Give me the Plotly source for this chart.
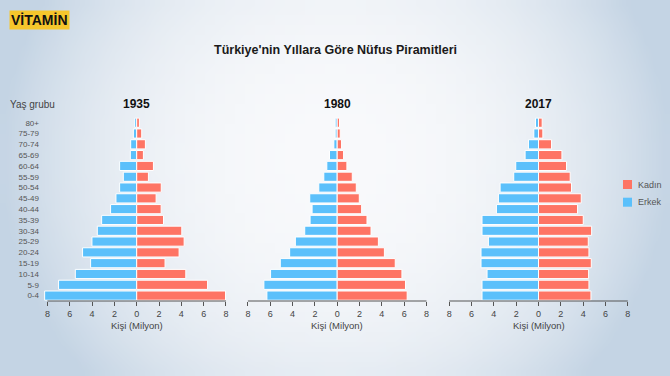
import base64, struct, zlib
import plotly.graph_objects as go

# ---------------- data ----------------
age_groups = ["80+", "75-79", "70-74", "65-69", "60-64", "55-59", "50-54", "45-49",
              "40-44", "35-39", "30-34", "25-29", "20-24", "15-19", "10-14", "5-9", "0-4"]
years = ["1935", "1980", "2017"]

male_1935 = [0.18, 0.30, 0.54, 0.57, 1.53, 1.20, 1.53, 1.86, 2.34, 3.14, 3.53, 4.01, 4.85, 4.13, 5.50, 7.00, 8.25]
female_1935 = [0.24, 0.45, 0.78, 0.60, 1.50, 1.05, 2.20, 1.74, 2.19, 2.40, 4.04, 4.25, 3.80, 2.54, 4.40, 6.35, 7.96]
male_1980 = [0.18, 0.18, 0.30, 0.69, 0.93, 1.20, 1.65, 2.46, 2.25, 2.43, 2.91, 3.75, 4.26, 5.10, 5.97, 6.57, 6.30]
female_1980 = [0.21, 0.27, 0.39, 0.57, 0.87, 1.35, 1.71, 1.98, 2.19, 2.67, 3.03, 3.69, 4.23, 5.20, 5.80, 6.12, 6.27]
male_2017 = [0.27, 0.42, 0.90, 1.20, 2.04, 2.22, 3.44, 3.59, 3.77, 5.06, 5.06, 4.49, 5.15, 5.15, 4.61, 5.06, 5.06]
female_2017 = [0.33, 0.39, 1.17, 2.10, 2.51, 2.84, 2.96, 3.83, 3.50, 4.01, 4.76, 4.46, 4.52, 4.73, 4.49, 4.52, 4.70]

male_series = [male_1935, male_1980, male_2017]
female_series = [female_1935, female_1980, female_2017]

tick_values = [-8, -6, -4, -2, 0, 2, 4, 6, 8]
tick_labels = ["8", "6", "4", "2", "0", "2", "4", "6", "8"]

female_name, male_name = "Kadın", "Erkek"
female_color, male_color = "#fe7464", "#5bc0fb"

title_text = "Türkiye'nin Yıllara Göre Nüfus Piramitleri"
x_title = "Kişi (Milyon)"
y_title = "Yaş grubu"
logo_text = "VİTAMİN"

# ---------------- layout geometry ----------------
W, H = 670, 376
centers_px = [136.7, 337.2, 538.5]
px_per_unit = 11.16
half_range = 8.4
top_px, bottom_px = 117.3, 301.0


def make_png(w, h):
    rows = []
    for j in range(h):
        row = bytearray([0])
        for i in range(w):
            fx = (i + 0.5) / w
            fy = (j + 0.5) / h
            t = ((fx - 0.5) / 0.5) ** 2 + 0.45 * ((fy - 0.42) / 0.58) ** 2
            t = min(1.0, t) ** 1.3
            c0 = (248, 249, 251)
            c1 = (196, 212, 228)
            row += bytes(int(round(c0[k] + (c1[k] - c0[k]) * t)) for k in range(3))
        rows.append(bytes(row))
    raw = b"".join(rows)

    def chunk(tag, data):
        return struct.pack(">I", len(data)) + tag + data + struct.pack(">I", zlib.crc32(tag + data) & 0xffffffff)

    png = b"\x89PNG\r\n\x1a\n" + chunk(b"IHDR", struct.pack(">IIBBBBB", w, h, 8, 2, 0, 0, 0)) \
        + chunk(b"IDAT", zlib.compress(raw, 9)) + chunk(b"IEND", b"")
    return "data:image/png;base64," + base64.b64encode(png).decode()


fig = go.Figure()
FONT = "Liberation Sans, Arial, sans-serif"


def note(text, xp, yp, size, color, xanchor="center", **kw):
    fig.add_annotation(text=text, xref="paper", yref="paper", x=xp / W, y=1 - yp / H,
                       xanchor=xanchor, yanchor="middle", showarrow=False,
                       font=dict(size=size, color=color, family=FONT), **kw)


for k, yr in enumerate(years):
    xa = "x" if k == 0 else f"x{k+1}"
    ya = "y" if k == 0 else f"y{k+1}"
    fig.add_trace(go.Bar(y=age_groups, x=[-v for v in male_series[k]], orientation="h",
                         name=male_name, marker=dict(color=male_color, line=dict(color="white", width=1)),
                         xaxis=xa, yaxis=ya, showlegend=False,
                         customdata=male_series[k], hovertemplate="%{y}: %{customdata}<extra>" + male_name + "</extra>"))
    fig.add_trace(go.Bar(y=age_groups, x=female_series[k], orientation="h",
                         name=female_name, marker=dict(color=female_color, line=dict(color="white", width=1)),
                         xaxis=xa, yaxis=ya, showlegend=False,
                         hovertemplate="%{y}: %{x}<extra>" + female_name + "</extra>"))

    c = centers_px[k]
    dom = [(c - half_range * px_per_unit) / W, (c + half_range * px_per_unit) / W]
    ydom = [1 - bottom_px / H, 1 - top_px / H]
    xkey = "xaxis" if k == 0 else f"xaxis{k+1}"
    ykey = "yaxis" if k == 0 else f"yaxis{k+1}"
    fig.update_layout(**{
        xkey: dict(domain=dom, anchor=ya, range=[-half_range, half_range],
                   tickvals=tick_values, ticktext=tick_labels, ticks="outside", ticklen=4,
                   tickcolor="#555", tickwidth=1, showline=False, showgrid=False, zeroline=False,
                   tickfont=dict(size=9, color="#444", family=FONT), fixedrange=True),
        ykey: dict(domain=ydom, anchor=xa, type="category", categoryorder="array",
                   categoryarray=age_groups, range=[len(age_groups) - 0.5, -0.5],
                   showgrid=False, zeroline=False, showline=False, ticks="",
                   showticklabels=(k == 0), ticklabelstandoff=3,
                   tickfont=dict(size=8, color="#555", family=FONT), fixedrange=True),
    })
    fig.add_shape(type="line", xref=xa, yref=f"{ya} domain", x0=tick_values[0], x1=tick_values[-1],
                  y0=0, y1=0, line=dict(color="#555", width=1))
    note(f"<b>{yr}</b>", c, 104, 12, "#111")
    note(x_title, c, 325, 9.5, "#444")

note(y_title, 32, 104, 10, "#444")

# legend
for i, (nm, col) in enumerate([(female_name, female_color), (male_name, male_color)]):
    yc = 184.5 + i * 17.7
    fig.add_shape(type="rect", xref="paper", yref="paper", x0=623 / W, x1=632 / W,
                  y0=1 - (yc + 4.5) / H, y1=1 - (yc - 4.5) / H, fillcolor=col, line=dict(width=0))
    note(nm, 636, yc, 9, "#555", xanchor="left")

note(f"<b>{title_text}</b>", 335, 50, 12.5, "#1a1a1a")
note(f"<b>{logo_text}</b>", 9, 20, 14, "#111", xanchor="left", bgcolor="#f6c62c", borderpad=1)

fig.update_layout(
    width=W, height=H, margin=dict(l=0, r=0, t=0, b=0),
    barmode="overlay", bargap=0.15,
    paper_bgcolor="#f3f5f8", plot_bgcolor="rgba(0,0,0,0)",
    showlegend=False,
    images=[dict(source=make_png(67, 38), xref="paper", yref="paper", x=0, y=1, sizex=1, sizey=1,
                 sizing="stretch", layer="below", xanchor="left", yanchor="top")],
    font=dict(family=FONT),
)

fig.write_html("out.html", config={"displayModeBar": False},
               post_script="document.body.style.margin='0';")
